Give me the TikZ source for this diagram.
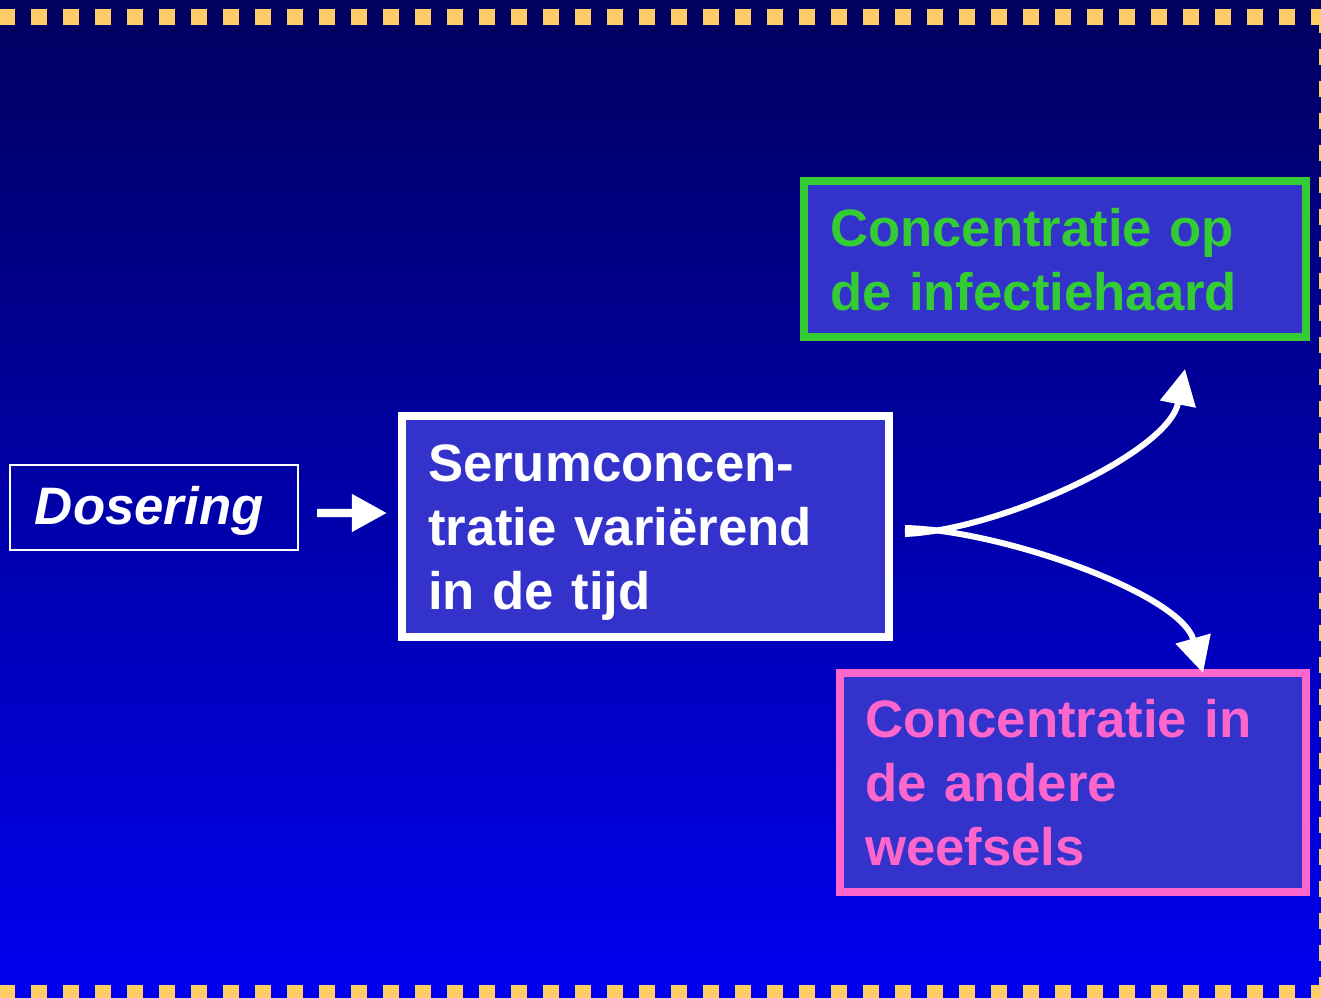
\documentclass[tikz,border=0pt]{standalone}
\usepackage{fontspec}
\setmainfont{Liberation Sans}
\usepackage{tikz}
\usetikzlibrary{arrows.meta}
\usepackage{xcolor}
\definecolor{boxfill}{RGB}{51,51,204}
\definecolor{hgreen}{RGB}{51,204,51}
\definecolor{wpink}{RGB}{255,102,204}
\definecolor{rimgold}{RGB}{255,204,102}

\begin{document}
\begin{tikzpicture} [
    box/.style={fill=boxfill,line width=2.3pt,outer sep=0pt,inner sep=0pt,align=left
      ,font=\bfseries\fontsize{15}{18.2}\selectfont,text height=0.4cm},
    rim/.style={rimgold,line width=0.16cm,dash pattern=on 0.16cm off 0.16cm},
    flow/.style={white,line width=1.7pt,-{Triangle[length=10.2pt,width=10pt]}}
  ]
  \useasboundingbox (0,0) rectangle (13.21,9.98);
  \shade[top color={rgb,255:red,0;green,0;blue,96},middle color={rgb,255:red,0;green,0;blue,200}
    ,bottom color={rgb,255:red,0;green,0;blue,240}] (0,0) rectangle (13.21,9.98);
  \begin{scope}
    \clip (0,0) rectangle (13.21,9.98);
    \draw[rim] (-0.01,9.81) -- (13.4,9.81);
    \draw[rim] (-0.01,0.05) -- (13.4,0.05);
    \draw[rim] (13.27,9.81) -- (13.27,-0.2);
  \end{scope}

  \node (dose) [box, fill=none, draw=white, line width=0.6pt, text=white
    , font=\bfseries\itshape\fontsize{15}{18.2}\selectfont
    , minimum width=2.88cm, minimum height=0.85cm, text width=2.38cm, text depth=0.05cm]
    at (1.54,4.905) {Dosering};
  \node (serum) [box, draw=white, line width=2pt, text=white
    , minimum width=4.87cm, minimum height=2.21cm, text width=4.35cm, text depth=1.29cm]
    at (6.455,4.715) {Serumconcen-\\tratie variërend\\in de tijd};
  \node (focus) [box, draw=hgreen, text=hgreen
    , minimum width=5.02cm, minimum height=1.56cm, text width=4.5cm, text depth=0.64cm]
    at (10.55,7.39) {Concentratie op\\de infectiehaard};
  \node (tissue) [box, draw=wpink, text=wpink
    , minimum width=4.66cm, minimum height=2.19cm, text width=4.16cm, text depth=1.29cm]
    at (10.73,2.155) {Concentratie in\\de andere\\weefsels};

  \draw[white,line width=2.3pt,-{Triangle[length=10pt,width=10.2pt]}
    ,shorten <=0.19cm,shorten >=0.15cm]
    ([yshift=-0.055cm]dose.east) -- ([yshift=0.135cm]serum.west);
  \draw[flow] ([xshift=0.16cm,yshift=-0.075cm]serum.east)
    .. controls +(0.95,0.04) and +(-0.17,-0.84) .. ([xshift=1.3cm,yshift=-0.32cm]focus.south);
  \draw[flow] ([xshift=0.16cm,yshift=-0.015cm]serum.east)
    .. controls +(0.95,-0.02) and +(-0.23,0.8) .. ([xshift=1.3cm]tissue.north);
\end{tikzpicture}
\end{document}
